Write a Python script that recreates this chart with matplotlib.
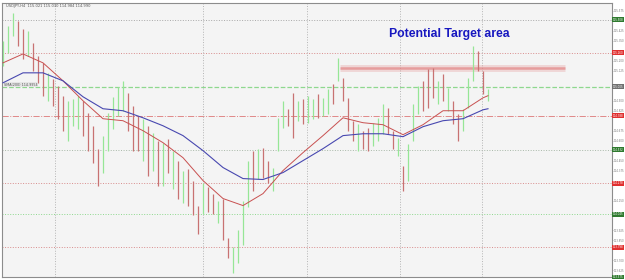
import matplotlib.pyplot as plt
import numpy as np

# H4 bars (price)
highs = [115.35, 115.462, 115.56, 115.50, 115.44, 115.425, 115.335, 115.238, 115.185, 115.11,
         115.065, 115.012, 114.938, 114.90, 114.915, 114.938, 114.90, 114.81, 114.712, 114.54,
         114.638, 114.81, 114.93, 115.005, 115.05, 114.96, 114.862, 114.788, 114.765, 114.712,
         114.66, 114.60, 114.585, 114.615, 114.525, 114.45, 114.375, 114.39, 114.30, 114.112,
         114.285, 114.248, 114.202, 114.15, 114.165, 113.865, 113.798, 113.925, 114.15, 114.45,
         114.525, 114.54, 114.548, 114.45, 114.398, 114.772, 114.90, 114.84, 114.96, 114.90,
         114.915, 114.938, 114.915, 114.952, 114.922, 114.99, 115.028, 115.222, 115.072, 114.922,
         114.75, 114.728, 114.675, 114.698, 114.735, 114.772, 114.878, 114.848, 114.675, 114.622,
         114.412, 114.578, 114.878, 115.012, 115.05, 115.14, 115.148, 115.05, 115.102, 114.998,
         114.90, 114.802, 114.84, 115.072, 115.312, 115.275, 115.125, 114.99]
lows = [115.162, 115.26, 115.388, 115.312, 115.215, 115.238, 115.125, 115.035, 114.938, 114.90,
        114.862, 114.765, 114.675, 114.60, 114.712, 114.69, 114.638, 114.525, 114.435, 114.262,
        114.36, 114.525, 114.69, 114.788, 114.825, 114.675, 114.525, 114.525, 114.45, 114.338,
        114.375, 114.262, 114.262, 114.36, 114.24, 114.165, 114.135, 114.112, 114.038, 113.902,
        114.052, 114.06, 114.052, 113.978, 113.85, 113.715, 113.602, 113.678, 113.812, 114.098,
        114.225, 114.315, 114.322, 114.278, 114.225, 114.525, 114.698, 114.712, 114.622, 114.75,
        114.728, 114.735, 114.765, 114.772, 114.788, 114.802, 114.878, 115.05, 114.90, 114.675,
        114.60, 114.525, 114.54, 114.525, 114.562, 114.60, 114.652, 114.652, 114.54, 114.488,
        114.225, 114.30, 114.60, 114.802, 114.825, 114.848, 114.922, 114.878, 114.90, 114.825,
        114.728, 114.60, 114.675, 114.848, 115.05, 115.125, 114.952, 114.90]
# u = up bar (green), d = down bar (red)
bull = ("uuuddudddu" "ddduuudddd" "uuuuudddud" "ududududdd" "uddudduuuu"
        "dudduuuddu" "duuduududd" "dudduuuddu" "duuudddudu" "dduuuddu")

# moving averages sampled every 4th bar (+ last bar)
ma_idx = [0, 4, 8, 12, 16, 20, 24, 28, 32, 36, 40, 44, 48, 52, 56, 60, 64, 68, 72, 76, 80, 84, 88, 92, 96, 97]
ma_fast = [115.185, 115.252, 115.185, 115.05, 114.90, 114.765, 114.75, 114.675, 114.585, 114.472,
           114.30, 114.165, 114.112, 114.202, 114.375, 114.51, 114.638, 114.772, 114.735, 114.72,
           114.645, 114.72, 114.825, 114.825, 114.922, 114.938]
ma_slow = [115.035, 115.11, 115.11, 115.05, 114.93, 114.84, 114.825, 114.772, 114.712, 114.638,
           114.525, 114.398, 114.315, 114.308, 114.36, 114.45, 114.54, 114.638, 114.652, 114.652,
           114.63, 114.705, 114.75, 114.765, 114.832, 114.84]

# horizontal levels
levels = [115.508, 115.26, 115.005, 114.788, 114.532, 114.278, 114.045, 113.798, 113.575]
level_colors = ['#a8a8a8', '#d88c8c', '#8ed88e', '#e08888', '#a8b8a8', '#d88c8c', '#8ed88e', '#d88c8c', '#909090']
level_styles = [':', ':', '--', '-.', ':', ':', ':', ':', ':']
box_colors = ['#2f7a2f', '#e03030', '#707070', '#e03030', '#2f7a2f', '#e03030', '#2f7a2f', '#e03030', '#2f7a2f']
price_ticks = [115.575, 115.425, 115.35, 115.20, 115.125, 114.90, 114.825, 114.675, 114.60,
               114.45, 114.375, 114.15, 113.925, 113.85, 113.70, 113.625]
time_grid = [10.4, 40, 60.8, 79.4, 95.8]

target_price = 115.148
target_from, target_to = 67.4, 112.4

fig = plt.figure(figsize=(6.25, 2.8), dpi=100)
fig.patch.set_facecolor('white')
ax = fig.add_axes([2 / 625, 3 / 280, 610 / 625, 274 / 280])
ax.set_facecolor('#f4f4f4')

idx = np.arange(len(highs))
cols = ['#96e696' if b == 'u' else '#c87272' for b in bull]
ax.vlines(idx, lows, highs, colors=cols, lw=0.9, zorder=3)

ax.plot(ma_idx, ma_fast, color='#c85050', lw=0.7, zorder=4)
ax.plot(ma_idx, ma_slow, color='#4848b0', lw=0.8, zorder=4)

for lv, c, ls in zip(levels, level_colors, level_styles):
    ax.axhline(lv, color=c, ls=ls, lw=0.9 if ls == '--' else 0.7, zorder=1)
for t in time_grid:
    ax.axvline(t, color='#b4b4b4', ls=':', lw=0.7, zorder=1)

# target band
ax.plot([target_from, target_to], [target_price] * 2, color='#e8a0a0', lw=5, alpha=0.35,
        solid_capstyle='butt', zorder=2)
ax.plot([target_from, target_to], [target_price] * 2, color='#e07878', lw=1.8, alpha=0.6,
        solid_capstyle='butt', zorder=2)
ax.text(89.2, 115.40, 'Potential Target area', color='#1818c0', fontsize=8.8, fontweight='bold',
        ha='center', va='center', family='Liberation Sans', zorder=5)

ax.text(0.5, 115.61, 'USDJPY,H4  115.021 115.030 114.984 114.990', fontsize=2.6, color='#555555',
        ha='left', va='center')
ax.text(0.3, 115.02, 'SMA(200) 114.9954', fontsize=2.4, color='#555555', ha='left', va='center',
        bbox=dict(boxstyle='square,pad=0.1', fc='#e6e6e6', ec='none'))

ax.set_xlim(-0.2, 121.8)
ax.set_ylim(113.575, 115.635)
ax.set_xticks([])
ax.yaxis.tick_right()
ax.set_yticks(price_ticks)
ax.set_yticklabels(['%.3f' % p for p in price_ticks])
ax.tick_params(axis='y', labelsize=1.9, labelcolor='#777777', length=1.0, width=0.4,
               color='#999999', pad=0.4)
for lv, bc in zip(levels, box_colors):
    ax.text(1.001, lv, '%.3f' % lv, transform=ax.get_yaxis_transform(), fontsize=1.9,
            color='white', ha='left', va='center', clip_on=False,
            bbox=dict(boxstyle='square,pad=0.15', fc=bc, ec='none'))
for s in ax.spines.values():
    s.set_color('#8c8c8c')
    s.set_linewidth(0.8)

fig.savefig('out.png', dpi=100)
